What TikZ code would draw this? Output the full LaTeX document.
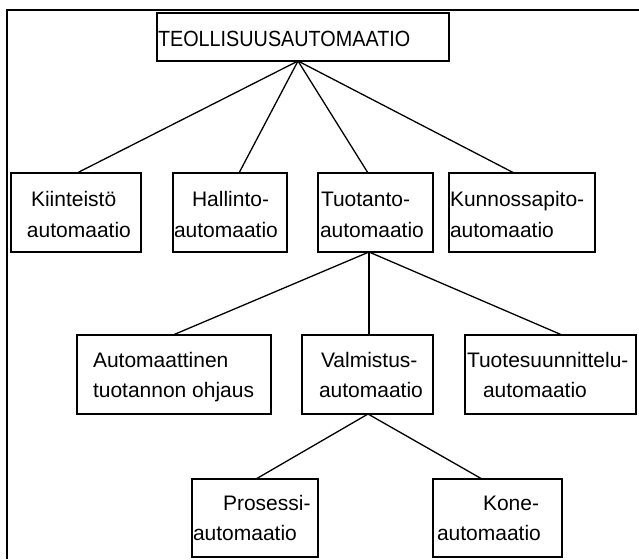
\documentclass[tikz,border=0pt]{standalone}
\usepackage{fontspec}
\setmainfont{Liberation Sans}
\usetikzlibrary{calc}

\tikzset{
  box/.style={draw=black, line width=1.6pt, rectangle, inner sep=0pt, outer sep=0pt, fill=white},
  conn/.style={draw=black, line width=1.3pt},
  lbl/.style={inner sep=0pt, outer sep=0pt, anchor=base west, font=\fontsize{21}{25}\selectfont},
  frame/.style={draw=black, line width=1.8pt}
}

% box from its corners: name, x1, y1, x2, y2
\newcommand\mkbox[5]{%
  \node[box, minimum width={#4-#2}, minimum height={#5-#3}] (#1) at ({(#2+#4)/2},{(#3+#5)/2}) {};}
% one line of text: name, x, baseline y, text
\newcommand\mktxt[4]{\node[lbl] (#1) at (#2,#3) {#4};}

\begin{document}
\begin{tikzpicture}[x=1pt, y=-1pt]
  \useasboundingbox (0,0) rectangle (639,559);
  \fill[white] (0,0) rectangle (639,559);

  % outer frame
  \draw[frame] (7,559) -- (7,10) -- (639,10);

  % boxes
  \mkbox{top}{157}{13}{449}{61}
  \mkbox{kii}{11}{173}{141}{252}
  \mkbox{hal}{173}{173}{287}{252}
  \mkbox{tuo}{318}{173}{433}{252}
  \mkbox{kun}{449}{173}{595}{252}
  \mkbox{aut}{77}{335}{271}{414}
  \mkbox{val}{302}{335}{433}{414}
  \mkbox{tsu}{465}{335}{636}{414}
  \mkbox{pro}{192}{479}{318}{557}
  \mkbox{kon}{433}{479}{562}{557}

  % connectors
  \draw[conn] ($(top.south west)+(141,0)$) -- ($(kii.north west)+(66,0)$);
  \draw[conn] ($(top.south west)+(141,0)$) -- ($(hal.north west)+(66,0)$);
  \draw[conn] ($(top.south west)+(141,0)$) -- ($(tuo.north west)+(50,0)$);
  \draw[conn] ($(top.south west)+(141,0)$) -- ($(kun.north west)+(65,0)$);
  \draw[conn] ($(tuo.south west)+(51,0)$) -- ($(aut.north west)+(96,0)$);
  \draw[conn] ($(tuo.south west)+(51,0)$) -- ($(val.north west)+(67,0)$);
  \draw[conn] ($(tuo.south west)+(51,0)$) -- ($(tsu.north west)+(97,0)$);
  \draw[conn] ($(val.south west)+(66,0)$) -- ($(pro.north west)+(64,0)$);
  \draw[conn] ($(val.south west)+(66,0)$) -- ($(kon.north west)+(49,0)$);

  % texts
  \node[lbl, font=\fontsize{22}{26}\selectfont] (top-t) at (158,47) {\scalebox{0.9}[1]{TEOLLISUUSAUTOMAATIO}};

  \mktxt{kii-a}{31}{206}{Kiinteistö}
  \mktxt{kii-b}{27}{237}{automaatio}
  \mktxt{hal-a}{192}{206}{Hallinto-}
  \mktxt{hal-b}{174}{237}{automaatio}
  \mktxt{tuo-a}{321}{206}{Tuotanto-}
  \mktxt{tuo-b}{320}{237}{automaatio}
  \mktxt{kun-a}{450}{206}{Kunnossapito-}
  \mktxt{kun-b}{450}{237}{automaatio}

  \mktxt{aut-a}{93}{367}{Automaattinen}
  \mktxt{aut-b}{93}{397}{tuotannon ohjaus}
  \mktxt{val-a}{321}{367}{Valmistus-}
  \mktxt{val-b}{319}{397}{automaatio}
  \mktxt{tsu-a}{467}{367}{Tuotesuunnittelu-}
  \mktxt{tsu-b}{483}{397}{automaatio}

  \mktxt{pro-a}{223}{510}{Prosessi-}
  \mktxt{pro-b}{193}{540}{automaatio}
  \mktxt{kon-a}{483}{510}{Kone-}
  \mktxt{kon-b}{437}{540}{automaatio}
\end{tikzpicture}
\end{document}
